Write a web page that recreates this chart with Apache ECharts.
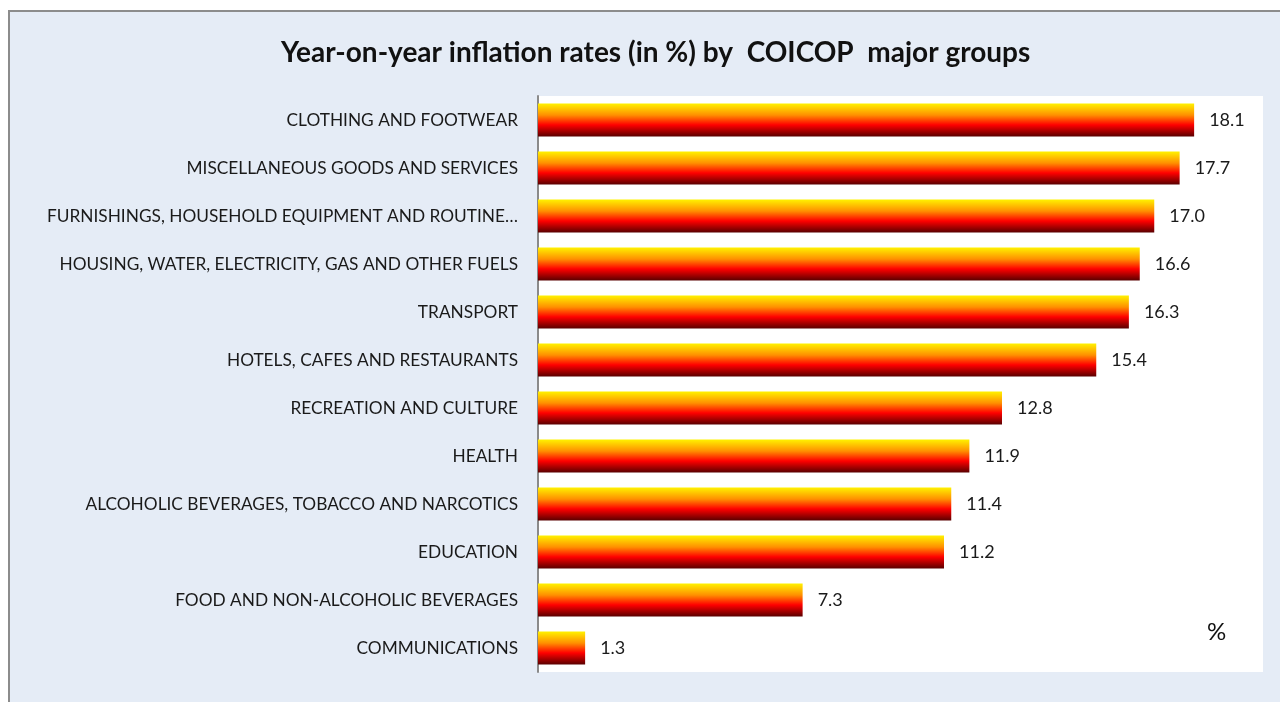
<!DOCTYPE html>
<html>
<head>
<meta charset="utf-8">
<script src="https://cdn.jsdelivr.net/npm/echarts@6/dist/echarts.min.js"></script>
<style>
html,body{margin:0;padding:0;background:#ffffff;}
#chart{width:1280px;height:702px;}
</style>
</head>
<body>
<div id="chart"></div>
<script>
const titleText = 'Year-on-year inflation rates (in %) by  COICOP  major groups';
const categories = [
  'CLOTHING AND FOOTWEAR',
  'MISCELLANEOUS GOODS AND SERVICES',
  'FURNISHINGS, HOUSEHOLD EQUIPMENT AND ROUTINE…',
  'HOUSING, WATER, ELECTRICITY, GAS AND OTHER FUELS',
  'TRANSPORT',
  'HOTELS, CAFES AND RESTAURANTS',
  'RECREATION AND CULTURE',
  'HEALTH',
  'ALCOHOLIC BEVERAGES, TOBACCO AND NARCOTICS',
  'EDUCATION',
  'FOOD AND NON-ALCOHOLIC BEVERAGES',
  'COMMUNICATIONS'
];
const values = [18.1, 17.7, 17.0, 16.6, 16.3, 15.4, 12.8, 11.9, 11.4, 11.2, 7.3, 1.3];
const unitLabel = '%';

const chart = echarts.init(document.getElementById('chart'), null, {renderer: 'canvas'});
const FONT = 'Lato, "Noto Sans", sans-serif';

const option = {
  backgroundColor: '#ffffff',
  animation: false,
  graphic: [
    {
      type: 'rect', z: -10, silent: true,
      shape: {x: 9, y: 11, width: 1290, height: 710},
      style: {fill: '#E5ECF6', stroke: '#8c8c8c', lineWidth: 2}
    },
    {
      type: 'text', left: 1207, top: 620, silent: true,
      style: {text: unitLabel, fontSize: 24, fill: '#111', fontFamily: FONT}
    }
  ],
  title: {
    text: titleText,
    left: 276,
    top: 34,
    textStyle: {fontSize: 28, fontWeight: 'bold', color: '#111', fontFamily: FONT}
  },
  grid: {
    left: 538, top: 96, width: 725, height: 576,
    show: true, backgroundColor: '#ffffff', borderWidth: 0,
    containLabel: false
  },
  xAxis: {
    type: 'value', min: 0, max: 20,
    axisLabel: {show: false}, axisLine: {show: false},
    axisTick: {show: false}, splitLine: {show: false}
  },
  yAxis: {
    type: 'category', data: categories, inverse: true,
    axisLine: {show: true, lineStyle: {color: '#8a8a8a', width: 2}},
    axisTick: {show: false},
    axisLabel: {margin: 20, fontSize: 17.3, color: '#1a1a1a', fontFamily: FONT}
  },
  series: [{
    type: 'bar',
    data: values,
    barWidth: 33,
    itemStyle: {
      color: new echarts.graphic.LinearGradient(0, 0, 0, 1, [
        {offset: 0, color: '#FFF200'},
        {offset: 0.35, color: '#FF9000'},
        {offset: 0.65, color: '#FF0000'},
        {offset: 1, color: '#5A0000'}
      ])
    },
    label: {
      show: true, position: 'right', distance: 15,
      fontSize: 18, color: '#1a1a1a', fontFamily: FONT,
      formatter: p => p.value.toFixed(1)
    }
  }]
};
chart.setOption(option);
</script>
</body>
</html>
